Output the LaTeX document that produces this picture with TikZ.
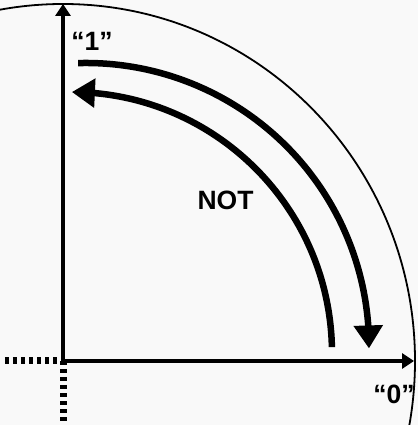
\documentclass[tikz,border=0pt]{standalone}
\usepackage{fontspec}
\setmainfont{Liberation Sans}
\usepackage{xcolor}
\usepackage{tikz}
\usetikzlibrary{arrows.meta,bending}
\definecolor{notback}{HTML}{F9F9F9}
\definecolor{notink}{HTML}{000000}
\tikzset{%
  axisline/.style={%
    -{Triangle[length=12pt,width=15pt]},
    line width=3.5pt,
    draw=notink
  },
  axisdots/.style={%
    line width=7pt,
    dash pattern=on 4pt off 4pt,
    draw=notink
  },
  unitcircle/.style={line width=1.8pt,draw=notink},
  notarrow/.style={-{Triangle[length=23pt,width=28pt]},line width=6.5pt,draw=notink},
  notlabel/.style={font=\fontsize{26.5}{30}\selectfont\bfseries,text=notink,inner sep=0pt}
}
\begin{document}
\begin{tikzpicture}[x=1pt,y=1pt]
    \fill[notback] (-63,-64) rectangle (355,361);
    \useasboundingbox (-63,-64) rectangle (355,361);
    \clip (-63,-64) rectangle (355,361);

    \coordinate (origin) at (0,0);
    \coordinate (xtip) at (351,0);
    \coordinate (ytip) at (0,357);
    \coordinate (xdots) at (-58,0);
    \coordinate (ydots) at (0,-64);
    \coordinate (onestart) at (15.1,297.9);
    \coordinate (zerostart) at (268.9,13.9);

    \node[notlabel] (one) at (29,320) {“1”};
    \node[notlabel] (zero) at (331,-33) {“0”};
    \node[notlabel] (not) at (162.5,160.5) {NOT};

    \draw[unitcircle] (origin) ellipse[x radius=352,y radius=357];
    \draw[axisdots] (xdots) -- (origin);
    \draw[axisdots] (origin) -- (ydots);
    \draw[axisline] (origin) -- (xtip);
    \draw[axisline] (origin) -- (ytip);

    \draw[notarrow] (onestart) arc[start angle=91.6,end angle=-0.5,radius=283];
    \draw[notarrow] (zerostart) arc[start angle=1.3,end angle=89.8,radius=261];
  \end{tikzpicture}
\end{document}
